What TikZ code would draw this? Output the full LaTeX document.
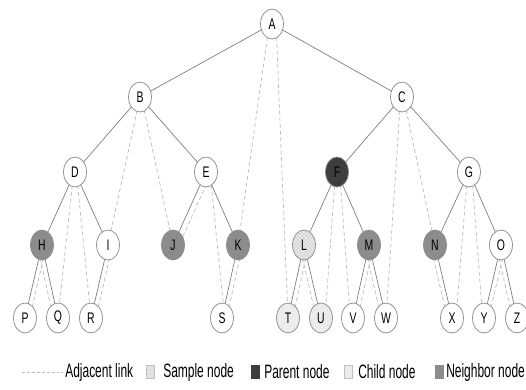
\documentclass[tikz,border=0pt]{standalone}
\usepackage{fontspec}
\setmainfont[FakeStretch=0.68]{Liberation Sans}
\newfontfamily\legfont[FakeStretch=0.62]{Liberation Sans}
\usetikzlibrary{shapes.geometric,backgrounds,patterns}
\definecolor{edgecol}{HTML}{7A7A7A}
\definecolor{adjcol}{HTML}{BDBDBD}
\definecolor{bordercol}{HTML}{8A8A8A}
\definecolor{parentcol}{HTML}{3E3E3E}
\definecolor{neighcol}{HTML}{8C8C8C}
\definecolor{childcol}{HTML}{ECECEC}
\definecolor{samplecol}{HTML}{E8E8E8}
\tikzset{
  tnode/.style={ellipse,draw=bordercol,line width=0.55pt,fill=white,
    minimum width=17.2pt,minimum height=22.5pt,inner sep=0pt,
    font=\fontsize{11.5}{12}\selectfont},
  parentnode/.style={tnode,fill=parentcol},
  neighnode/.style={tnode,fill=neighcol},
  childnode/.style={tnode,fill=childcol},
  samplenode/.style={tnode,preaction={fill=samplecol},pattern=crosshatch dots,pattern color=gray!75},
  tedge/.style={draw=edgecol,line width=0.5pt},
  adj/.style={draw=adjcol,line width=0.55pt,dash pattern=on 3pt off 2pt},
  legtext/.style={anchor=west,inner sep=0pt,font=\legfont\fontsize{14.5}{15}\selectfont},
  legbox/.style={draw=bordercol,line width=0.4pt,minimum width=6pt,minimum height=9.5pt,inner sep=0pt}
}
\begin{document}
\begin{tikzpicture}[x=0.75pt,y=-0.75pt]
\useasboundingbox (0,0) rectangle (526,390);
% level 0-2
\node[tnode] (A) at (272,24) {A};
\node[tnode] (B) at (140,97) {B};
\node[tnode] (C) at (402,97) {C};
\node[tnode] (D) at (75,172) {D};
\node[tnode] (E) at (206,172) {E};
\node[parentnode] (F) at (337,172) {F};
\node[tnode] (G) at (469,172) {G};
% level 3
\node[neighnode] (H) at (42,245) {H};
\node[tnode] (I) at (108,245) {I};
\node[neighnode] (J) at (173,245) {J};
\node[neighnode] (K) at (238,245) {K};
\node[samplenode] (L) at (304,245) {L};
\node[neighnode] (M) at (369,245) {M};
\node[neighnode] (N) at (435,245) {N};
\node[tnode] (O) at (501,245) {O};
% level 4
\node[tnode] (P) at (25,318) {P};
\node[tnode] (Q) at (58,318) {Q};
\node[tnode] (R) at (91,318) {R};
\node[tnode] (S) at (222,318) {S};
\node[childnode] (T) at (288,318) {T};
\node[childnode] (U) at (321,318) {U};
\node[tnode] (V) at (353,318) {V};
\node[tnode] (W) at (386,318) {W};
\node[tnode] (X) at (452,318) {X};
\node[tnode] (Y) at (484,318) {Y};
\node[tnode] (Z) at (517,318) {Z};
\begin{scope}[on background layer]
% tree edges
\foreach \p/\c in {A/B,A/C,B/D,B/E,C/F,C/G,D/H,D/I,E/J,E/K,F/L,F/M,G/N,G/O,
  H/P,H/Q,I/R,K/S,L/T,L/U,M/V,M/W,N/X,O/Y,O/Z}
  \draw[tedge] (\p.center) -- (\c.center);
% adjacent links (long)
\draw[adj] ([xshift=-2pt]A.center) -- (K.center);
\draw[adj] ([xshift=3pt]A.center) -- (T.center);
\draw[adj] (B.center) -- (I.center);
\draw[adj] ([xshift=1pt]B.center) -- (J.center);
\draw[adj] ([xshift=-1pt]C.center) -- (W.center);
\draw[adj] ([xshift=1pt]C.center) -- (N.center);
\draw[adj] ([xshift=-1pt]D.center) -- (Q.center);
\draw[adj] ([xshift=1pt]D.center) -- (R.center);
\draw[adj] ([xshift=3pt]E.center) -- ([xshift=2pt]S.center);
\draw[adj] ([xshift=-1pt]F.center) -- ([xshift=3pt]U.center);
\draw[adj] ([xshift=2pt]F.center) -- ([xshift=-2pt]V.center);
\draw[adj] ([xshift=-1pt]G.center) -- ([xshift=3pt]X.center);
\draw[adj] ([xshift=2pt]G.center) -- ([xshift=-1pt]Y.center);
% adjacent links parallel to tree edges (inner side)
\foreach \p/\c/\s in {H/P/3.5,H/Q/-3.5,I/R/3.5,E/J/4.5,K/S/3.5,L/T/3.5,L/U/-3.5,M/V/3.5,M/W/-3.5,N/X/-3.5,O/Y/3.5,O/Z/-3.5}
  \draw[adj] ([xshift=\s pt]\p.center) -- ([xshift=\s pt]\c.center);
\end{scope}
% legend
\coordinate (l1) at (22,372);
\coordinate (l2) at (63,372);
\draw[adj,dash pattern=on 2.2pt off 1.5pt,line width=0.4pt] (l1) -- (l2);
\node[legtext] (t1) at (65,372) {Adjacent link};
\node[legbox,draw=gray!50,preaction={fill=samplecol},pattern=crosshatch dots,pattern color=gray!60] (b2) at (150.5,372) {};
\node[legtext] (t2) at (163,372) {Sample node};
\node[legbox,fill=parentcol,draw=parentcol] (b3) at (255,372) {};
\node[legtext] (t3) at (264,372) {Parent node};
\node[legbox,fill=childcol,draw=gray!50] (b4) at (348,372) {};
\node[legtext] (t4) at (358,372) {Child node};
\node[legbox,fill=neighcol,draw=neighcol] (b5) at (439.5,372) {};
\node[legtext] (t5) at (446,372) {Neighbor node};
\end{tikzpicture}
\end{document}
